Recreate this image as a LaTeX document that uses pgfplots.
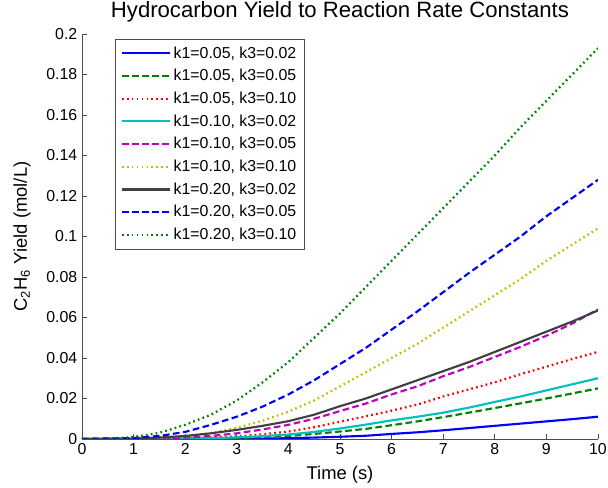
\documentclass[border=0pt]{standalone}
\usepackage{fontspec}
\setmainfont{Liberation Sans}
\usepackage{pgfplots}
\pgfplotsset{compat=1.18}
\definecolor{mblue}{rgb}{0,0,1}
\definecolor{mgreen}{rgb}{0,0.5,0}
\definecolor{mred}{rgb}{1,0,0}
\definecolor{mcyan}{rgb}{0,0.75,0.75}
\definecolor{mmag}{rgb}{0.75,0,0.75}
\definecolor{myel}{rgb}{0.75,0.75,0}
\definecolor{mblack}{rgb}{0.25,0.25,0.25}
\definecolor{axgray}{rgb}{0.3,0.3,0.3}
\tikzset{
  msolid/.style={line width=1.6pt, solid},
  mdashed/.style={line width=1.6pt, dash pattern=on 5pt off 2.6pt},
  mdotted/.style={line width=1.7pt, dash pattern=on 1.3pt off 2.4pt},
}
\begin{document}
\begin{tikzpicture}
\useasboundingbox (-61.5pt,-36.75pt) rectangle (394.5pt,329.25pt);
\begin{axis}[
  at={(0,0)}, anchor=south west,
  scale only axis, width=387pt, height=303.75pt,
  xmin=0, xmax=10, ymin=0, ymax=0.2,
  xtick={0,1,...,10},
  ytick={0,0.02,0.04,0.06,0.08,0.1,0.12,0.14,0.16,0.18,0.2},
  axis lines=left,
  axis line style={-, draw=axgray, line width=0.6pt},
  tick style={draw=axgray, line width=0.6pt},
  tick align=inside,
  major tick length=4pt,
  tick label style={font=\fontsize{11.9}{14}\selectfont},
  /pgf/number format/assume math mode=true,
  yticklabel style={/pgf/number format/fixed, /pgf/number format/precision=2},
  title={Hydrocarbon Yield to Reaction Rate Constants},
  title style={at={(axis description cs:0.5,1.0198)}, anchor=base, font=\fontsize{16.6}{20}\selectfont},
  xlabel={Time (s)},
  xlabel style={at={(axis description cs:0.5,-0.089)}, anchor=center, font=\fontsize{13.8}{16}\selectfont},
  ylabel={C\textsubscript{2}H\textsubscript{6} Yield (mol/L)},
  ylabel style={at={(axis description cs:-0.116,0.5)}, anchor=center, font=\fontsize{13.8}{16}\selectfont},
  legend style={at={(0.064,0.988)}, anchor=north west, draw=axgray, line width=0.6pt,
    font=\fontsize{11.9}{14}\selectfont, row sep=2.9pt, inner xsep=4pt, inner ysep=3.5pt},
  legend cell align=left,
  legend image code/.code={\draw[#1] (0pt,0pt) -- (36pt,0pt);},
]
\addplot[mblue, msolid] coordinates {
(0,0) (1,0) (2,0) (3,0.0001) (3.5,0.0002) (4,0.0004) (4.5,0.0007) (5,0.0011) (5.5,0.0016) (6,0.0025) (6.5,0.0033) (7,0.0043) (7.5,0.0054) (8,0.0065) (8.5,0.0076) (9,0.0087) (9.5,0.0098) (10,0.011)};
\addlegendentry{k1=0.05, k3=0.02}
\addplot[mgreen, mdashed] coordinates {
(0,0) (1,0) (2,0.0001) (2.5,0.0002) (3,0.0005) (3.5,0.0009) (4,0.0015) (4.5,0.0025) (5,0.0037) (5.5,0.005) (6,0.0068) (6.5,0.0087) (7,0.0108) (7.5,0.013) (8,0.0153) (8.5,0.0176) (9,0.02) (9.5,0.0225) (10,0.025)};
\addlegendentry{k1=0.05, k3=0.05}
\addplot[mred, mdotted] coordinates {
(0,0) (1,0) (1.5,0.0001) (2,0.0003) (2.5,0.0007) (3,0.0013) (3.5,0.0023) (4,0.0037) (4.5,0.0058) (5,0.0085) (5.5,0.0112) (6,0.014) (6.5,0.017) (7,0.021) (7.5,0.0245) (8,0.028) (8.5,0.032) (9,0.0357) (9.5,0.0395) (10,0.043)};
\addlegendentry{k1=0.05, k3=0.10}
\addplot[mcyan, msolid] coordinates {
(0,0) (1,0) (2,0.0002) (2.5,0.0004) (3,0.0008) (3.5,0.0014) (4,0.0022) (4.5,0.0035) (5,0.0052) (5.5,0.0071) (6,0.0092) (6.5,0.011) (7,0.013) (7.5,0.0155) (8,0.0183) (8.5,0.021) (9,0.024) (9.5,0.027) (10,0.030)};
\addlegendentry{k1=0.10, k3=0.02}
\addplot[mmag, mdashed] coordinates {
(0,0) (1,0.0001) (1.5,0.0003) (2,0.0007) (2.5,0.0015) (3,0.0028) (3.5,0.0047) (4,0.007) (4.5,0.010) (5,0.0138) (5.5,0.0175) (6,0.022) (6.5,0.026) (7,0.031) (7.5,0.0355) (8,0.0405) (8.5,0.0455) (9,0.051) (9.5,0.057) (10,0.064)};
\addlegendentry{k1=0.10, k3=0.05}
\addplot[myel, mdotted] coordinates {
(0,0) (1,0.0002) (1.5,0.0006) (2,0.0013) (2.5,0.003) (3,0.0055) (3.5,0.009) (4,0.0135) (4.5,0.019) (5,0.026) (5.5,0.033) (6,0.040) (6.5,0.047) (7,0.055) (7.5,0.063) (8,0.071) (8.5,0.079) (9,0.088) (9.5,0.096) (10,0.104)};
\addlegendentry{k1=0.10, k3=0.10}
\addplot[mblack, msolid] coordinates {
(0,0) (1,0.0002) (1.5,0.0007) (2,0.0015) (2.5,0.0028) (3,0.0045) (3.5,0.0065) (4,0.0088) (4.5,0.012) (5,0.0162) (5.5,0.020) (6,0.0245) (6.5,0.029) (7,0.0335) (7.5,0.038) (8,0.043) (8.5,0.048) (9,0.053) (9.5,0.058) (10,0.0635)};
\addlegendentry{k1=0.20, k3=0.02}
\addplot[mblue, mdashed] coordinates {
(0,0) (1,0.0005) (1.5,0.0015) (2,0.0035) (2.5,0.007) (3,0.011) (3.5,0.016) (4,0.022) (4.5,0.029) (5,0.037) (5.5,0.045) (6,0.054) (6.5,0.063) (7,0.0725) (7.5,0.082) (8,0.091) (8.5,0.100) (9,0.110) (9.5,0.119) (10,0.128)};
\addlegendentry{k1=0.20, k3=0.05}
\addplot[mgreen, mdotted] coordinates {
(0,0) (0.5,0) (1,0.001) (1.5,0.003) (2,0.007) (2.5,0.012) (3,0.019) (3.5,0.028) (4,0.038) (4.5,0.050) (5,0.062) (5.5,0.075) (6,0.088) (6.5,0.101) (7,0.114) (7.5,0.127) (8,0.140) (8.5,0.154) (9,0.167) (9.5,0.180) (10,0.193)};
\addlegendentry{k1=0.20, k3=0.10}
\end{axis}
\end{tikzpicture}
\end{document}
